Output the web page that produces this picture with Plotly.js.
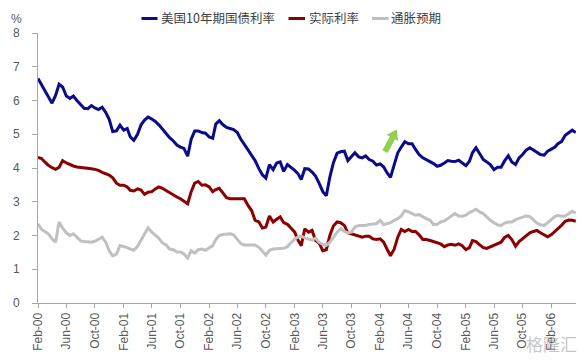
<!DOCTYPE html>
<html>
<head>
<meta charset="utf-8">
<script src="https://cdn.plot.ly/plotly-3.0.1.min.js"></script>
<style>html,body{margin:0;padding:0;background:#fff;}#chart{width:584px;height:361px;}</style>
</head>
<body>
<div id="chart"></div>
<script>
const dates = [
"2000-02-01","2000-02-16","2000-03-01","2000-03-16","2000-04-01","2000-04-16","2000-05-01","2000-05-16","2000-06-01","2000-06-16","2000-07-01","2000-07-16","2000-08-01","2000-08-16","2000-09-01","2000-09-16","2000-10-01","2000-10-16","2000-11-01","2000-11-16","2000-12-01","2000-12-16",
"2001-01-01","2001-01-16","2001-02-01","2001-02-16","2001-03-01","2001-03-16","2001-04-01","2001-04-16","2001-05-01","2001-05-16","2001-06-01","2001-06-16","2001-07-01","2001-07-16","2001-08-01","2001-08-16","2001-09-01","2001-09-16","2001-10-01","2001-10-16","2001-11-01","2001-11-16","2001-12-01","2001-12-16",
"2002-01-01","2002-01-16","2002-02-01","2002-02-16","2002-03-01","2002-03-16","2002-04-01","2002-04-16","2002-05-01","2002-05-16","2002-06-01","2002-06-16","2002-07-01","2002-07-16","2002-08-01","2002-08-16","2002-09-01","2002-09-16","2002-10-01","2002-10-16","2002-11-01","2002-11-16","2002-12-01","2002-12-16",
"2003-01-01","2003-01-16","2003-02-01","2003-02-16","2003-03-01","2003-03-16","2003-04-01","2003-04-16","2003-05-01","2003-05-16","2003-06-01","2003-06-16","2003-07-01","2003-07-16","2003-08-01","2003-08-16","2003-09-01","2003-09-16","2003-10-01","2003-10-16","2003-11-01","2003-11-16","2003-12-01","2003-12-16",
"2004-01-01","2004-01-16","2004-02-01","2004-02-16","2004-03-01","2004-03-16","2004-04-01","2004-04-16","2004-05-01","2004-05-16","2004-06-01","2004-06-16","2004-07-01","2004-07-16","2004-08-01","2004-08-16","2004-09-01","2004-09-16","2004-10-01","2004-10-16","2004-11-01","2004-11-16","2004-12-01","2004-12-16",
"2005-01-01","2005-01-16","2005-02-01","2005-02-16","2005-03-01","2005-03-16","2005-04-01","2005-04-16","2005-05-01","2005-05-16","2005-06-01","2005-06-16","2005-07-01","2005-07-16","2005-08-01","2005-08-16","2005-09-01","2005-09-16","2005-10-01","2005-10-16","2005-11-01","2005-11-16","2005-12-01","2005-12-16",
"2006-01-01","2006-01-16","2006-02-01","2006-02-16","2006-03-01","2006-03-16","2006-04-01","2006-04-16","2006-05-01","2006-05-16"
];

const treasury10y = [
6.65,6.47,6.32,6.12,5.92,6.15,6.48,6.40,6.13,6.06,6.13,6.00,5.89,5.77,5.76,5.85,5.78,5.73,5.80,5.65,5.44,5.08,
5.10,5.27,5.12,5.17,4.92,4.82,5.00,5.28,5.42,5.51,5.45,5.38,5.28,5.15,5.04,4.90,4.80,4.68,4.62,4.58,4.35,4.85,5.10,5.10,
5.05,5.03,4.92,4.88,5.30,5.40,5.28,5.20,5.17,5.14,5.05,4.85,4.70,4.55,4.38,4.22,3.98,3.80,3.70,4.10,3.95,4.15,4.18,3.90,
4.10,4.02,3.93,3.82,3.66,3.98,3.97,3.88,3.76,3.55,3.30,3.18,3.73,4.15,4.44,4.48,4.50,4.22,4.33,4.45,4.33,4.30,4.36,4.25,
4.20,4.09,4.12,4.03,3.86,3.72,4.10,4.45,4.62,4.78,4.72,4.72,4.55,4.40,4.30,4.25,4.20,4.13,4.05,4.08,4.15,4.22,4.20,4.19,
4.23,4.16,4.07,4.20,4.45,4.60,4.40,4.25,4.18,4.10,3.95,4.02,4.02,4.21,4.36,4.18,4.10,4.30,4.40,4.53,4.60,4.53,4.46,4.40,
4.38,4.50,4.56,4.62,4.72,4.78,4.97,5.05,5.12,5.05
];

const realRate = [
4.31,4.28,4.18,4.08,4.01,3.96,4.02,4.22,4.15,4.10,4.06,4.03,4.02,4.02,4.00,3.98,3.96,3.93,3.87,3.83,3.79,3.71,
3.55,3.49,3.49,3.44,3.34,3.32,3.38,3.35,3.22,3.28,3.30,3.38,3.44,3.40,3.33,3.28,3.22,3.14,3.09,3.02,2.94,3.30,3.55,3.60,
3.49,3.50,3.44,3.30,3.36,3.40,3.25,3.12,3.09,3.09,3.09,3.09,3.09,2.90,2.74,2.45,2.40,2.22,2.25,2.58,2.40,2.48,2.55,2.38,
2.33,2.22,2.10,1.85,1.70,2.20,2.10,2.15,1.85,1.78,1.55,1.58,2.00,2.28,2.40,2.38,2.30,2.08,2.05,2.00,1.98,1.95,1.98,1.98,
1.90,1.88,1.90,1.80,1.60,1.40,1.60,1.95,2.18,2.12,2.18,2.12,2.12,2.02,1.88,1.88,1.85,1.82,1.78,1.75,1.67,1.72,1.74,1.71,
1.75,1.70,1.58,1.64,1.85,1.82,1.72,1.64,1.62,1.66,1.70,1.74,1.80,1.94,2.00,1.88,1.68,1.82,1.90,2.00,2.08,2.12,2.15,2.08,
2.02,1.96,2.03,2.12,2.20,2.30,2.42,2.46,2.45,2.42
];

const inflationExp = [
2.35,2.18,2.12,2.05,1.90,1.80,2.40,2.22,2.08,2.00,2.05,1.95,1.84,1.82,1.82,1.80,1.83,1.88,1.95,1.80,1.55,1.40,
1.45,1.70,1.68,1.64,1.60,1.56,1.68,1.85,2.03,2.23,2.10,2.00,1.92,1.78,1.72,1.60,1.58,1.51,1.51,1.45,1.33,1.55,1.48,1.58,
1.60,1.56,1.62,1.70,1.88,2.00,2.03,2.05,2.05,2.02,1.88,1.76,1.72,1.72,1.74,1.72,1.65,1.55,1.42,1.56,1.60,1.61,1.61,1.62,
1.67,1.78,1.90,1.96,1.98,1.93,1.90,1.86,1.92,1.80,1.74,1.71,1.80,1.95,2.10,2.20,2.12,2.08,2.10,2.25,2.30,2.30,2.30,2.33,
2.35,2.35,2.45,2.32,2.35,2.38,2.45,2.50,2.58,2.74,2.70,2.66,2.60,2.62,2.55,2.50,2.45,2.32,2.33,2.40,2.43,2.50,2.57,2.65,
2.58,2.57,2.60,2.68,2.72,2.78,2.70,2.65,2.55,2.45,2.38,2.32,2.30,2.37,2.40,2.40,2.47,2.50,2.55,2.58,2.56,2.45,2.37,2.32,
2.30,2.38,2.48,2.56,2.60,2.57,2.58,2.65,2.72,2.66
];

const seriesNames = ["美国10年期国债利率", "实际利率", "通胀预期"];
const seriesColors = ["#0a0a8a", "#8b0000", "#c0c0c0"];
const seriesValues = [treasury10y, realRate, inflationExp];

const traces = seriesValues.map((vals, i) => ({
  x: dates, y: vals, type: "scatter", mode: "lines", name: seriesNames[i],
  line: {color: seriesColors[i], width: 3}, showlegend: false, hoverinfo: "skip"
}));

// plot area in pixels: left 38, right 576, top 33, bottom 303
const L = 38, R = 576, T = 33, B = 303;
const px = x => (x - L) / (R - L);
const py = y => (B - y) / (B - T);

const legendItems = [
  {x0: 141.5, x1: 157.5, tx: 158.5},
  {x0: 288.5, x1: 305,   tx: 306.5},
  {x0: 372,   x1: 388.5, tx: 388.5}
];
const shapes = legendItems.map((it, i) => ({
  type: "line", xref: "paper", yref: "paper",
  x0: px(it.x0), x1: px(it.x1), y0: py(18.5), y1: py(18.5),
  line: {color: seriesColors[i], width: 3}
}));

// green arrow decoration (pixel polygon converted to paper coordinates)
const arrowPts = [[382.4,150.3],[389.8,136.5],[386.6,134.8],[396.7,129.5],[398.2,141.0],[395.0,139.3],[387.6,153.1]];
shapes.push({
  type: "path", xref: "paper", yref: "paper",
  path: "M" + arrowPts.map(p => px(p[0]).toFixed(5) + "," + py(p[1]).toFixed(5)).join(" L") + " Z",
  fillcolor: "#92d050", line: {width: 0}
});

const annotations = legendItems.map((it, i) => ({
  xref: "paper", yref: "paper", x: px(it.tx), y: py(18), xanchor: "left", yanchor: "middle",
  text: seriesNames[i], showarrow: false,
  font: {family: "Noto Sans CJK SC", size: 12.5, color: "#404040"}
}));
annotations.push({
  xref: "paper", yref: "paper", x: px(9), y: py(19), xanchor: "left", yanchor: "middle",
  text: "%", showarrow: false, font: {family: "Liberation Sans, Arial", size: 12, color: "#595959"}
});
// watermark
annotations.push({
  xref: "paper", yref: "paper", x: px(579), y: py(343), xanchor: "right", yanchor: "middle",
  text: "格隆汇", showarrow: false,
  font: {family: "Noto Sans CJK SC", size: 17, color: "rgba(160,160,160,0.6)"}
});

const layout = {
  width: 584, height: 361,
  margin: {l: L, r: 584 - R, t: T, b: 361 - B, pad: 0},
  paper_bgcolor: "#ffffff", plot_bgcolor: "#ffffff",
  showlegend: false,
  xaxis: {
    type: "date", range: ["2000-02-01", "2006-05-17"],
    tick0: "2000-02-01", dtick: "M4", tickformat: "%b-%y", tickangle: -90,
    ticks: "outside", ticklen: 4, tickcolor: "#a6a6a6",
    showline: true, linecolor: "#a6a6a6", linewidth: 1,
    showgrid: false, zeroline: false,
    tickfont: {family: "Liberation Sans, Arial", size: 12, color: "#595959"}
  },
  yaxis: {
    range: [0, 8], dtick: 1, tick0: 0,
    ticks: "outside", ticklen: 5, tickcolor: "#a6a6a6",
    showline: true, linecolor: "#a6a6a6", linewidth: 1,
    showgrid: false, zeroline: false, ticklabelstandoff: 10,
    tickfont: {family: "Liberation Sans, Arial", size: 12, color: "#595959"}
  },
  shapes: shapes,
  annotations: annotations
};

Plotly.newPlot("chart", traces, layout, {staticPlot: true, displayModeBar: false});
</script>
</body>
</html>
